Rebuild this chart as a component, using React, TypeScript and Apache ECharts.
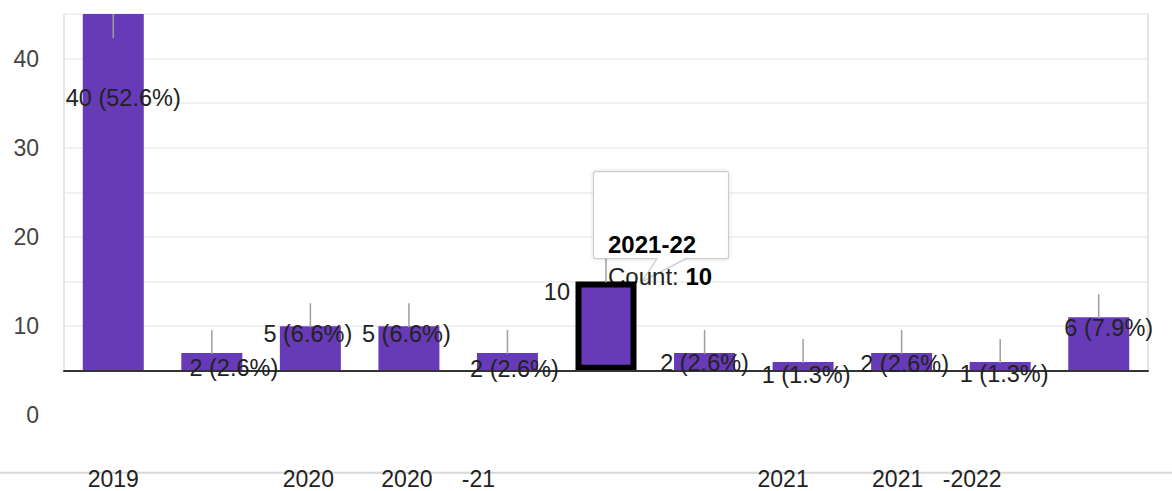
import { useEffect, useRef } from "react";
import * as echarts from "echarts";

// ---- data ----
const categories = ["2019", "2019-20", "2020", "2020-21", "2021", "2021-22", "2022", "2021 ", "2021-2022", "2022-23", "2023"];
const tickLabels = ["2019", "", "2020", "2020", "-21", "", "", "2021", "2021", "-2022", ""];
const counts = [40, 2, 5, 5, 2, 10, 2, 1, 2, 1, 6];
const yTickLabels = ["0", "10", "20", "30", "40"];
const hoveredIndex = 5;
const tooltipTitle = "2021-22";

// ---- styling (label nudges relative to the top-centre of each bar) ----
const labelNudge: [number, number, string][] = [
  [10, 84, "center"],
  [22, 15, "center"],
  [-2.5, 7.5, "center"],
  [-2.5, 7.5, "center"],
  [7, 16, "center"],
  [-36, 10, "right"],
  [0, 10, "center"],
  [3, 13, "center"],
  [3, 11, "center"],
  [4, 12, "center"],
  [10, 10.5, "center"],
];
const tickNudge = [0, 0, -2, -2, -29, 0, 0, -20, -4, -28, 0];

const FONT = "'Liberation Sans', Arial, Helvetica, sans-serif";
const PURPLE = "#673ab7";

const total = counts.reduce((a, b) => a + b, 0);
const barLabels = counts.map((v, i) =>
  i === hoveredIndex ? `${v}` : `${v} (${((v / total) * 100).toFixed(1)}%)`
);

export default function App() {
  const ref = useRef<HTMLDivElement>(null);
  useEffect(() => {
    if (!ref.current) return;
    const chart = echarts.init(ref.current, null, { renderer: "svg" });
    const option: any = {
      animation: false,
      textStyle: { fontFamily: FONT },
      grid: { left: 64, right: 24, top: 14, height: 401.4, containLabel: false, outerBoundsMode: "none" },
      xAxis: {
        type: "category",
        data: categories.map((c, i) => ({
          value: c,
          textStyle: { padding: tickNudge[i] < 0 ? [0, -2 * tickNudge[i], 0, 0] : [0, 0, 0, 2 * tickNudge[i]] },
        })),
        z: 3,
        axisLine: { onZero: true, lineStyle: { color: "#333", width: 2 } },
        axisTick: { show: false },
        axisLabel: {
          interval: 0,
          margin: 55,
          fontSize: 23,
          lineHeight: 18,
          color: "#222",
          fontFamily: FONT,
          formatter: (_v: string, i: number) => tickLabels[i],
        },
        splitLine: { show: false },
      },
      yAxis: {
        type: "value",
        min: -5,
        max: 40,
        interval: 5,
        axisLine: { show: false },
        axisTick: { show: false },
        axisLabel: {
          fontSize: 23,
          color: "#444",
          margin: 25,
          fontFamily: FONT,
          formatter: (v: number) => {
            const k = Math.round((v + 5) / 10);
            return Math.abs(v + 5 - k * 10) < 1e-6 ? yTickLabels[k] ?? "" : "";
          },
        },
        splitLine: { showMinLine: false, lineStyle: { color: "#ececec", width: 1.5 } },
      },
      series: [
        {
          type: "bar",
          barWidth: 61,
          itemStyle: { color: PURPLE },
          data: counts.map((v, i) =>
            i === hoveredIndex
              ? { value: v, itemStyle: { color: PURPLE, borderColor: "#000", borderWidth: 6 } }
              : v
          ),
          z: 2,
        },
        {
          type: "custom",
          silent: true,
          z: 5,
          data: counts.map((v, i) => [i, v]),
          renderItem: (params: any, api: any) => {
            const i = api.value(0);
            const v = api.value(1);
            const p = api.coord([i, v]);
            const top = params.coordSys.y;
            const y1 = Math.max(p[1] - 23, top);
            const n = labelNudge[i];
            return {
              type: "group",
              children: [
                {
                  type: "line",
                  shape: { x1: p[0], y1, x2: p[0], y2: y1 + 24 },
                  style: { stroke: "#9e9e9e", lineWidth: 1.5 },
                },
                {
                  type: "text",
                  style: {
                    text: barLabels[i],
                    x: p[0] + n[0],
                    y: p[1] + n[1],
                    align: n[2],
                    verticalAlign: "middle",
                    fontSize: 23.5,
                    fontFamily: FONT,
                    fill: "#222",
                  },
                },
              ],
            };
          },
        },
      ],
    };
    chart.setOption(option);

    const base = chart.convertToPixel({ gridIndex: 0 }, [0, 0]) as number[];
    const tip = chart.convertToPixel({ gridIndex: 0 }, [hoveredIndex, counts[hoveredIndex]]) as number[];
    const gLeft = 64;
    const gRight = 1148;
    const gTop = 14;
    const px = tip[0];
    const py = tip[1];
    chart.setOption({
      graphic: [
        {
          type: "line",
          z: 1,
          shape: { x1: gLeft, y1: gTop, x2: gLeft, y2: base[1] },
          style: { stroke: "#e6e6e6", lineWidth: 2 },
        },
        {
          type: "line",
          z: 1,
          shape: { x1: gRight, y1: gTop, x2: gRight, y2: base[1] },
          style: { stroke: "#e6e6e6", lineWidth: 2 },
        },
        {
          type: "line",
          z: 1,
          shape: { x1: 0, y1: 472.7, x2: 1172, y2: 472.7 },
          style: { stroke: "#d9d9d9", lineWidth: 2 },
        },
        {
          type: "group",
          z: 100,
          children: [
            {
              type: "rect",
              shape: { x: px - 12.5, y: py - 110, width: 135, height: 87, r: 2 },
              style: {
                fill: "#fff",
                stroke: "#cccccc",
                lineWidth: 1.2,
                shadowBlur: 4,
                shadowColor: "rgba(0,0,0,0.15)",
              },
            },
            {
              type: "polygon",
              shape: { points: [[px + 51, py - 23.6], [px + 80, py - 23.6], [px + 36, py]] },
              style: { fill: "#fff" },
            },
            {
              type: "polyline",
              shape: { points: [[px + 51, py - 23], [px + 36, py], [px + 80, py - 23]] },
              style: { stroke: "#cccccc", lineWidth: 1.2, fill: null },
            },
            {
              type: "text",
              style: {
                text: tooltipTitle,
                x: px + 2,
                y: py - 37.5,
                align: "left",
                verticalAlign: "middle",
                fontSize: 24,
                fontWeight: "bold",
                fontFamily: FONT,
                fill: "#000",
              },
            },
            {
              type: "text",
              style: {
                text: `{n|Count: }{b|${counts[hoveredIndex]}}`,
                x: px + 2,
                y: py - 5,
                align: "left",
                verticalAlign: "middle",
                fontFamily: FONT,
                rich: {
                  n: { fontSize: 24, fontFamily: FONT, fill: "#222", color: "#222" },
                  b: { fontSize: 24, fontFamily: FONT, fontWeight: "bold", fill: "#000", color: "#000" },
                },
              },
            },
          ],
        },
      ],
    });

    return () => chart.dispose();
  }, []);
  return (
    <div
      ref={ref}
      style={{ position: "fixed", left: 0, top: 0, width: 1172, height: 491, background: "#fff" }}
    />
  );
}
